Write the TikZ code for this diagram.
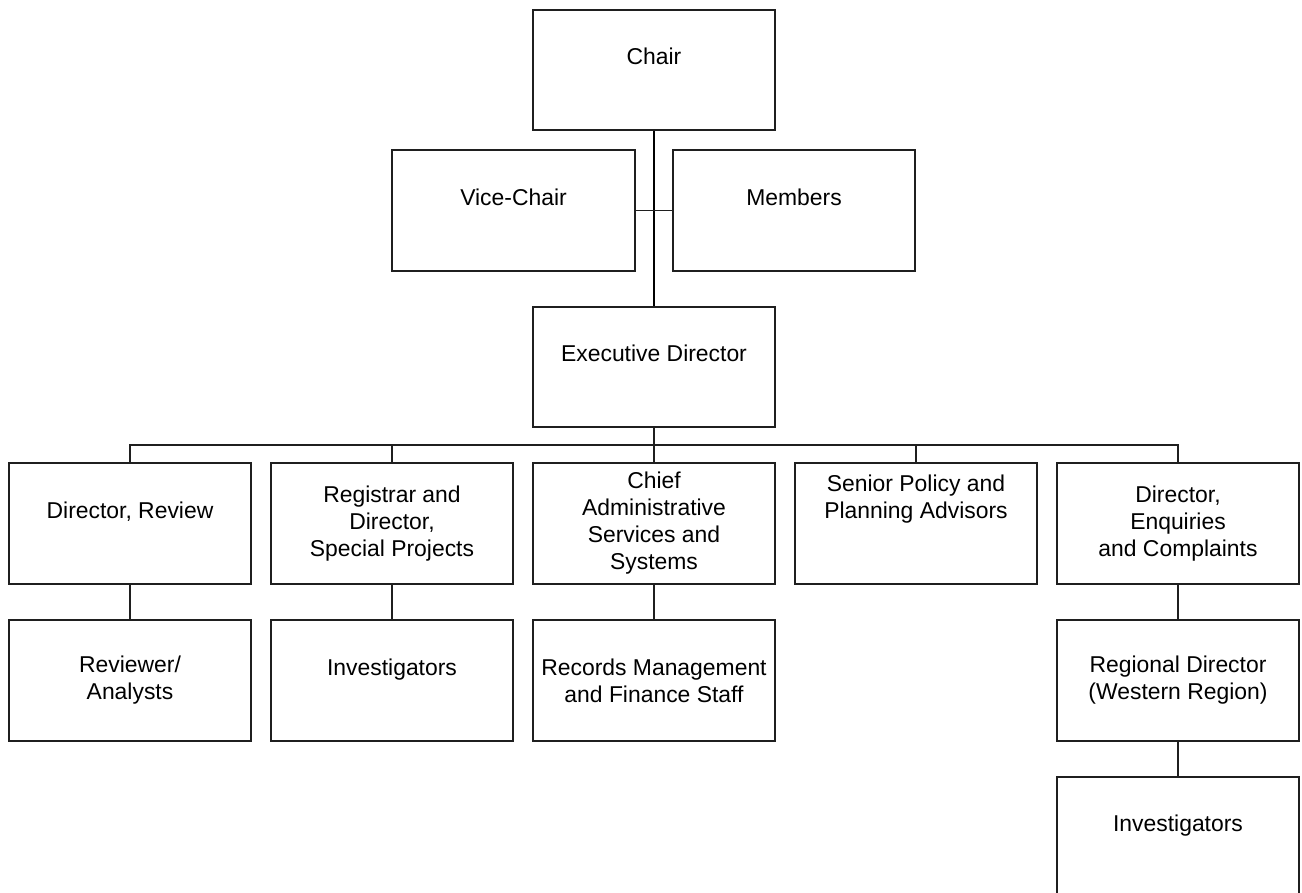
\documentclass[tikz,border=0pt]{standalone}
\usepackage{fontspec}
\setmainfont{Liberation Sans}
\begin{document}
\begin{tikzpicture}[x=1pt,y=-1pt,
  orgbox/.style={draw=black!88, line width=1.3pt, rectangle, inner sep=0pt,
    minimum width=242pt, minimum height=120pt, align=center,
    font=\fontsize{22.9}{27}\selectfont},
  conn/.style={draw=black!88, line width=1.2pt},
  mainconn/.style={draw=black, line width=1.8pt}]
\useasboundingbox (0,0) rectangle (1302,893);
\fill[white] (0,0) rectangle (1302,893);
% top
\node[orgbox] (chair) at (654,70) {Chair\\\phantom{Chair}};
\node[orgbox, minimum width=243pt, minimum height=121pt] (vice) at (513.5,210.5) {Vice-Chair\\\phantom{V}};
\node[orgbox, minimum height=121pt] (members) at (794,210.5) {Members\\\phantom{M}};
\node[orgbox] (exec) at (654,367) {Executive Director\\\phantom{E}};
% row 2
\node[orgbox, minimum height=121pt] (review) at (130,523.5) {Director, Review\\\phantom{D}};
\node[orgbox, minimum height=121pt] (registrar) at (392,523.5) {Registrar and\\Director,\\Special Projects};
\node[orgbox, minimum height=121pt] (chief) at (654,523.5) {Chief\\Administrative\\Services and\\Systems};
\node[orgbox, minimum height=121pt] (senior) at (916,523.5) {Senior Policy and\\Planning Advisors\\\phantom{S}\\\phantom{S}};
\node[orgbox, minimum height=121pt] (enquiries) at (1178,523.5) {Director,\\Enquiries\\and Complaints};
% row 3
\node[orgbox, minimum height=121pt] (reviewers) at (130,680.5) {Reviewer/\\Analysts};
\node[orgbox, minimum height=121pt] (invest1) at (392,680.5) {Investigators\\\phantom{I}};
\node[orgbox, minimum height=121pt] (records) at (654,680.5) {Records Management\\and Finance Staff};
\node[orgbox, minimum height=121pt] (regional) at (1178,680.5) {Regional Director\\(Western Region)};
% row 4
\node[orgbox] (invest2) at (1178,837) {Investigators\\\phantom{I}};
% connectors
\coordinate (bus) at (654,445);
\draw[mainconn] (chair.south) -- (exec.north);
\draw[conn] (vice.east) -- (members.west);
\draw[conn] (exec.south) -- (bus);
\draw[conn] (review.north) -- (review.north |- bus) -- (enquiries.north |- bus) -- (enquiries.north);
\draw[conn] (registrar.north) -- (registrar.north |- bus);
\draw[conn] (chief.north) -- (chief.north |- bus);
\draw[conn] (senior.north) -- (senior.north |- bus);
\draw[conn] (review.south) -- (reviewers.north);
\draw[conn] (registrar.south) -- (invest1.north);
\draw[conn] (chief.south) -- (records.north);
\draw[conn] (enquiries.south) -- (regional.north);
\draw[conn] (regional.south) -- (invest2.north);
\end{tikzpicture}
\end{document}
